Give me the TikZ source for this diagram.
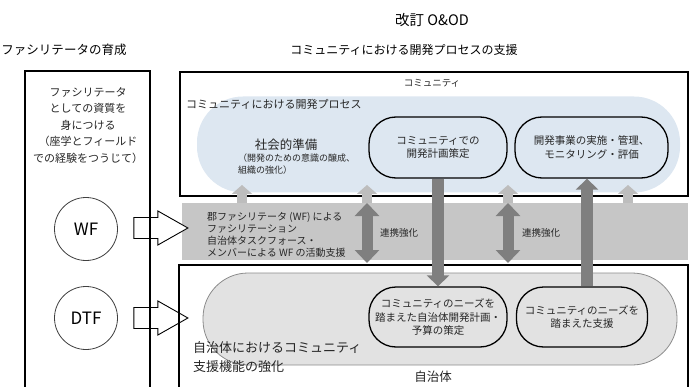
\documentclass[tikz,border=0pt]{standalone}
\usepackage{fontspec}
\setmainfont{Noto Sans CJK JP}
\usetikzlibrary{arrows.meta,calc}
\definecolor{blueL}{HTML}{DDE7F1}
\definecolor{grayL}{HTML}{E2E2E2}
\definecolor{bandG}{HTML}{C6C6C6}
\definecolor{arrD}{HTML}{7F7F7F}
\definecolor{arrL}{HTML}{BDBDBD}
\definecolor{txtG}{HTML}{262626}
\newcommand{\fs}[2]{\fontsize{#1}{#2}\selectfont}
\begin{document}
\begin{tikzpicture}[x=1pt,y=-1pt,
  frame/.style={draw=black,line width=1.4pt},
  pill/.style={draw=black,line width=1.3pt,rounded corners=27pt,align=center,
    inner sep=0pt,text=txtG,font=\fs{10.5}{13.5}},
  circ/.style={draw=black!75,line width=0.8pt,circle,minimum size=63pt,inner sep=0pt,font=\fs{17}{17}},
  bigarrow/.style={draw=arrD,line width=12pt,-{Triangle[width=22pt,length=11pt]}},
  dblarrow/.style={draw=arrD,line width=11pt,{Triangle[width=24pt,length=13pt]}-{Triangle[width=24pt,length=13pt]}},
  lightarrow/.style={draw=arrL,line width=10pt,-{Triangle[width=20pt,length=9pt]}},
  lbl/.style={inner sep=0pt,text=txtG},
  blockarr/.pic={\draw[line width=0.9pt,fill=white] (16,-10.5) -- (40,-10.5) -- (40,-17) -- (70,0) -- (40,17) -- (40,10.5) -- (16,10.5) -- cycle;}
]
\useasboundingbox (0,0) rectangle (692,387);

% titles
\node[lbl,font=\fs{14.5}{14.5},text=black] (title) at (432,20) {改訂 O\&OD};
\node[lbl,font=\fs{12.5}{12.5},text=black] (hleft) at (64,50) {ファシリテータの育成};
\node[lbl,font=\fs{12}{12},text=black] (hright) at (404,50) {コミュニティにおける開発プロセスの支援};

% band
\fill[bandG] (182,203) rectangle (688,260);
\node[lbl,anchor=north west,align=left,font=\fs{10}{12}] (band) at (207,212)
  {郡ファシリテータ (WF) による\\ファシリテーション\\自治体タスクフォース・\\メンバーによる WF の活動支援};

% blue region
\node[fill=blueL,rounded corners=46pt,minimum width=483pt,minimum height=96pt,inner sep=0pt] (blue) at (438.5,144.5) {};
% gray region
\node[fill=grayL,draw=black!45,line width=0.8pt,rounded corners=45pt,minimum width=474pt,minimum height=92pt,inner sep=0pt] (grayr) at (440,319) {};

% block arrows and circles
\node[circ] (wf) at (86,229) {WF};
\node[circ] (dtf) at (86,318) {DTF};
\pic at ($(wf.east)+(0,-1)$) {blockarr};
\pic at (dtf.east) {blockarr};

% frames
\draw[frame] (25,71) rectangle (150,400);
\node[frame,minimum width=508pt,minimum height=124pt,inner sep=0pt,fill=none] (commbox) at (434,134) {};
\draw[frame] (179,265) rectangle (688,400);

% frame labels
\node[lbl,font=\fs{9.5}{9.5}] (comm) at (432,83) {コミュニティ};
\node[lbl,anchor=west,font=\fs{11}{11}] (proc) at (186,104) {コミュニティにおける開発プロセス};
\node[lbl,align=center,font=\fs{11}{16.5}] (lefttxt) at (88,125.5)
  {ファシリテータ\\としての資質を\\身につける\\（座学とフィールド\\での経験をつうじて）};
\node[lbl,font=\fs{12.5}{12.5}] (shakai) at (286,145) {社会的準備};
\node[lbl,anchor=north west,align=left,font=\fs{9}{12}] (shakai2) at (238,154)
  {（開発のための意識の醸成、\\組織の強化）};
\node[lbl,anchor=west,align=left,font=\fs{13}{19}] (jichi) at (193,357.5)
  {自治体におけるコミュニティ\\支援機能の強化};
\node[lbl,font=\fs{12.5}{12.5}] (jichitai) at (433,377) {自治体};

% pills
\node[pill,minimum width=138pt,minimum height=61pt] (plan) at (438,147.5) {コミュニティでの\\開発計画策定};
\node[pill,minimum width=153pt,minimum height=61pt] (impl) at (591.5,147.5) {開発事業の実施・管理、\\モニタリング・評価};
\node[pill,minimum width=138pt,minimum height=60pt] (budget) at (438,317) {コミュニティのニーズを\\踏まえた自治体開発計画・\\予算の策定};
\node[pill,minimum width=131pt,minimum height=60pt] (support) at (582,317) {コミュニティのニーズを\\踏まえた支援};

% light up arrows
\foreach \xx/\nm in {242/la1,367/la2,508/la3,628/la4}{
  \coordinate (\nm s) at (\xx,203);
  \coordinate (\nm e) at (\xx,185);
  \draw[lightarrow] (\nm s) -- (\nm e);
}

% double arrows
\coordinate (d1t) at (367,203); \coordinate (d1b) at (367,263);
\coordinate (d2t) at (508,203); \coordinate (d2b) at (508,263);
\draw[dblarrow] (d1t) -- (d1b);
\draw[dblarrow] (d2t) -- (d2b);
\node[lbl,font=\fs{9.5}{9.5}] (ren1) at (399,233) {連携強化};
\node[lbl,font=\fs{9.5}{9.5}] (ren2) at (541,233) {連携強化};

% main arrows
\draw[bigarrow] (plan.south) -- (budget.north);
\coordinate (ux) at (587,0);
\draw[bigarrow] (support.north -| ux) -- (impl.south -| ux);
\end{tikzpicture}
\end{document}
